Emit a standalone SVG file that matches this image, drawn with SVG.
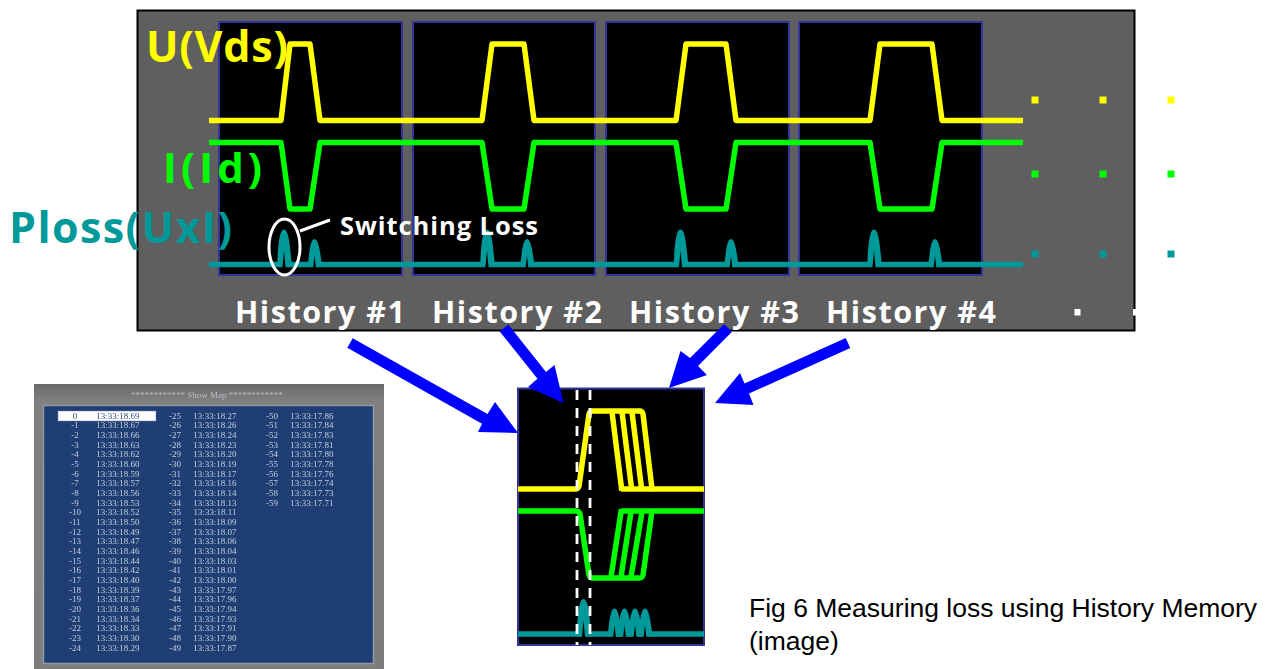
<svg xmlns="http://www.w3.org/2000/svg" width="1267" height="669" viewBox="0 0 1267 669">
<defs>
<filter id="soft" x="-5%" y="-5%" width="110%" height="110%"><feGaussianBlur stdDeviation="0.45"/></filter>
<linearGradient id="hdr" x1="0" y1="0" x2="0" y2="1"><stop offset="0" stop-color="#6a6a6a"/><stop offset="0.06" stop-color="#808080"/><stop offset="1" stop-color="#7c7c7c"/></linearGradient>
<g id="tall"><path fill="#009999" d="M-7 2.500C-6 -12 -5.500 -35 0 -35C5.500 -35 6.500 -12 8 2.500Z"/><path fill="#000" d="M-1.600 3.500L0 -14L1.600 3.500Z"/></g>
<g id="short"><path fill="#009999" d="M-7 2.500C-5.500 -6 -5 -25.500 0 -25.500C5 -25.500 6 -6 8 2.500Z"/><path fill="#000" d="M-1.400 3.500L0 -9L1.400 3.500Z"/></g>
</defs>
<style>
.screen{fill:#000;stroke:#333399;stroke-width:2}
.w{fill:none;stroke-width:5.500;stroke-linejoin:round}
.sq{stroke-linecap:square}
.y{stroke:#ffff00}.g{stroke:#00ff00}.t{stroke:#009999}
.lbl{font-family:"Open Sans","Noto Sans",sans-serif;font-weight:700}
.arrow{fill:#0000ff}
.fig{font-family:"Liberation Sans",Arial,sans-serif;font-size:26.500px;fill:#000}
.tbl text{font-family:"Liberation Serif","Times New Roman",serif;font-size:9px;fill:#c3ccdc;text-anchor:middle}
</style>
<rect width="1267" height="669" fill="#fff"/>
<g id="history-panel">
<rect x="137.500" y="10.500" width="997" height="320" fill="#5f5f5f" stroke="#000" stroke-width="2"/>
<rect class="screen" x="219" y="22" width="183" height="253"/>
<rect class="screen" x="413" y="22" width="182" height="253"/>
<rect class="screen" x="606" y="22" width="183" height="253"/>
<rect class="screen" x="799" y="22" width="183" height="253"/>
<text class="lbl" x="146" y="62" font-size="43" fill="#ffff00" textLength="142" lengthAdjust="spacing">U(Vds)</text>
<text class="lbl" x="163" y="183" font-size="42" fill="#00ff00" textLength="99" lengthAdjust="spacing">I(Id)</text>
<text class="lbl" x="9" y="243" font-size="43" fill="#009999" textLength="223" lengthAdjust="spacing">Ploss(UxI)</text>
</g>
<g id="waves">
<path class="w y" d="M209 120.500H281L290 44H310L320 120.500H482L492 44H524L534 120.500H676L686 44H726L736 120.500H870L880 44H932L942 120.500H1023"/>
<path class="w g" d="M209 142.500H281L290 209H310L320 142.500H482L492 209H524L534 142.500H676L686 209H726L736 142.500H870L880 209H932L942 142.500H1023"/>
<path class="w t" d="M209 264.500H1023"/>
<use href="#tall" x="284" y="264.500"/><use href="#short" x="314.500" y="264.500"/>
<use href="#tall" x="487" y="264.500"/><use href="#short" x="527" y="264.500"/>
<use href="#tall" x="680.500" y="264.500"/><use href="#short" x="731" y="264.500"/>
<use href="#tall" x="874" y="264.500"/><use href="#short" x="935" y="264.500"/>
</g>
<g id="switching-loss">
<ellipse cx="284.500" cy="247" rx="15.500" ry="28" fill="none" stroke="#fff" stroke-width="3"/>
<path d="M300 231L330 220" stroke="#fff" stroke-width="3" fill="none"/>
<text class="lbl" x="340" y="235" font-size="25.500" fill="#fff" textLength="198" lengthAdjust="spacing">Switching Loss</text>
</g>
<g id="history-labels" class="lbl" font-size="30.500" fill="#fff">
<text x="235" y="323" textLength="170" lengthAdjust="spacing">History #1</text>
<text x="432" y="323" textLength="170" lengthAdjust="spacing">History #2</text>
<text x="629" y="323" textLength="170" lengthAdjust="spacing">History #3</text>
<text x="826" y="323" textLength="170" lengthAdjust="spacing">History #4</text>
</g>
<g id="dots">
<g fill="#ffff00"><rect x="1031.500" y="96.500" width="7" height="7"/><rect x="1099.500" y="96.500" width="7" height="7"/><rect x="1167.500" y="96.500" width="7" height="7"/></g>
<g fill="#00ff00"><rect x="1031.500" y="170.500" width="7" height="7"/><rect x="1099.500" y="170.500" width="7" height="7"/><rect x="1167.500" y="170.500" width="7" height="7"/></g>
<g fill="#009999"><rect x="1031.500" y="250.500" width="7" height="7"/><rect x="1099.500" y="250.500" width="7" height="7"/><rect x="1167.500" y="250.500" width="7" height="7"/></g>
<rect x="1074.500" y="309" width="6" height="6.500" fill="#fff"/><rect x="1133" y="309" width="4" height="6.500" fill="#fff"/>
</g>
<g id="overlay-screen">
<rect class="screen" x="518" y="388.500" width="186" height="256.500"/>
<path class="w y" d="M518 489H576Q578 489 579 486L589 414Q590 411 592 411H640Q642 411 643 414L652 489H704"/>
<path class="w y sq" d="M612 412L621.500 488M622 412L631.500 488M632 412L641.500 488"/>
<path class="w y" d="M621 489H652"/>
<path class="w g" d="M518 511H576Q579 511 580 514L589 575Q590 578 592 578H640Q642 578 643 575L652 511H704"/>
<path class="w g sq" d="M611 577L621 512M621 577L631 512M631 577L642 512"/>
<path class="w g" d="M621 511H652"/>
<path class="w t" d="M518 634H704"/>
<use href="#tall" x="583.500" y="634"/>
<use href="#short" x="614.500" y="634"/><use href="#short" x="624.500" y="634"/><use href="#short" x="635" y="634"/><use href="#short" x="645" y="634"/>
<path d="M577 390V645M590 390V645" stroke="#fff" stroke-width="2.800" stroke-dasharray="10 8" fill="none"/>
</g>
<g id="connectors">
<path class="arrow" d="M352.700 338.200L347.300 347.800L482 423.700L478 432L518 433L495 402L487.500 413.900Z"/>
<path class="arrow" d="M499.700 331.400L508.300 324.600L546 371.900L554.500 365L563.500 403L528 387L537.500 378.700Z"/>
<path class="arrow" d="M724.200 324.100L731.800 331.900L698 366L707 375L669 388L680.500 351L690 358Z"/>
<path class="arrow" d="M845.700 338L850.300 348L749 393.500L753.500 405L715 403L740 373L744.500 383.500Z"/>
</g>
<g id="show-map">
<rect x="34" y="384" width="350" height="285" fill="url(#hdr)"/>
<rect x="43.500" y="405.500" width="330" height="258" fill="#1f3f74" stroke="#8f99a8" stroke-width="1.500"/>
<g filter="url(#soft)" class="tbl">
<text x="207" y="398" style="fill:#b5bac2">************ Show Map ************</text>
<rect x="58" y="411" width="98" height="10" fill="#fff" stroke="#6d7fa6" stroke-width="0.500"/>
<g>
<text x="75" y="418.500" style="fill:#2b4a86">0</text><text x="118" y="418.500" style="fill:#2b4a86">13:33:18.69</text>
<text x="75" y="428.200">-1</text><text x="118" y="428.200">13:33:18.67</text>
<text x="75" y="437.800">-2</text><text x="118" y="437.800">13:33:18.66</text>
<text x="75" y="447.500">-3</text><text x="118" y="447.500">13:33:18.63</text>
<text x="75" y="457.200">-4</text><text x="118" y="457.200">13:33:18.62</text>
<text x="75" y="466.900">-5</text><text x="118" y="466.900">13:33:18.60</text>
<text x="75" y="476.500">-6</text><text x="118" y="476.500">13:33:18.59</text>
<text x="75" y="486.200">-7</text><text x="118" y="486.200">13:33:18.57</text>
<text x="75" y="495.900">-8</text><text x="118" y="495.900">13:33:18.56</text>
<text x="75" y="505.500">-9</text><text x="118" y="505.500">13:33:18.53</text>
<text x="75" y="515.200">-10</text><text x="118" y="515.200">13:33:18.52</text>
<text x="75" y="524.900">-11</text><text x="118" y="524.900">13:33:18.50</text>
<text x="75" y="534.500">-12</text><text x="118" y="534.500">13:33:18.49</text>
<text x="75" y="544.200">-13</text><text x="118" y="544.200">13:33:18.47</text>
<text x="75" y="553.900">-14</text><text x="118" y="553.900">13:33:18.46</text>
<text x="75" y="563.600">-15</text><text x="118" y="563.600">13:33:18.44</text>
<text x="75" y="573.200">-16</text><text x="118" y="573.200">13:33:18.42</text>
<text x="75" y="582.900">-17</text><text x="118" y="582.900">13:33:18.40</text>
<text x="75" y="592.600">-18</text><text x="118" y="592.600">13:33:18.39</text>
<text x="75" y="602.200">-19</text><text x="118" y="602.200">13:33:18.37</text>
<text x="75" y="611.900">-20</text><text x="118" y="611.900">13:33:18.36</text>
<text x="75" y="621.600">-21</text><text x="118" y="621.600">13:33:18.34</text>
<text x="75" y="631.200">-22</text><text x="118" y="631.200">13:33:18.33</text>
<text x="75" y="640.900">-23</text><text x="118" y="640.900">13:33:18.30</text>
<text x="75" y="650.600">-24</text><text x="118" y="650.600">13:33:18.29</text>
<text x="175" y="418.500">-25</text><text x="215" y="418.500">13:33:18.27</text>
<text x="175" y="428.200">-26</text><text x="215" y="428.200">13:33:18.26</text>
<text x="175" y="437.800">-27</text><text x="215" y="437.800">13:33:18.24</text>
<text x="175" y="447.500">-28</text><text x="215" y="447.500">13:33:18.23</text>
<text x="175" y="457.200">-29</text><text x="215" y="457.200">13:33:18.20</text>
<text x="175" y="466.900">-30</text><text x="215" y="466.900">13:33:18.19</text>
<text x="175" y="476.500">-31</text><text x="215" y="476.500">13:33:18.17</text>
<text x="175" y="486.200">-32</text><text x="215" y="486.200">13:33:18.16</text>
<text x="175" y="495.900">-33</text><text x="215" y="495.900">13:33:18.14</text>
<text x="175" y="505.500">-34</text><text x="215" y="505.500">13:33:18.13</text>
<text x="175" y="515.200">-35</text><text x="215" y="515.200">13:33:18.11</text>
<text x="175" y="524.900">-36</text><text x="215" y="524.900">13:33:18.09</text>
<text x="175" y="534.500">-37</text><text x="215" y="534.500">13:33:18.07</text>
<text x="175" y="544.200">-38</text><text x="215" y="544.200">13:33:18.06</text>
<text x="175" y="553.900">-39</text><text x="215" y="553.900">13:33:18.04</text>
<text x="175" y="563.600">-40</text><text x="215" y="563.600">13:33:18.03</text>
<text x="175" y="573.200">-41</text><text x="215" y="573.200">13:33:18.01</text>
<text x="175" y="582.900">-42</text><text x="215" y="582.900">13:33:18.00</text>
<text x="175" y="592.600">-43</text><text x="215" y="592.600">13:33:17.97</text>
<text x="175" y="602.200">-44</text><text x="215" y="602.200">13:33:17.96</text>
<text x="175" y="611.900">-45</text><text x="215" y="611.900">13:33:17.94</text>
<text x="175" y="621.600">-46</text><text x="215" y="621.600">13:33:17.93</text>
<text x="175" y="631.200">-47</text><text x="215" y="631.200">13:33:17.91</text>
<text x="175" y="640.900">-48</text><text x="215" y="640.900">13:33:17.90</text>
<text x="175" y="650.600">-49</text><text x="215" y="650.600">13:33:17.87</text>
<text x="272" y="418.500">-50</text><text x="312" y="418.500">13:33:17.86</text>
<text x="272" y="428.200">-51</text><text x="312" y="428.200">13:33:17.84</text>
<text x="272" y="437.800">-52</text><text x="312" y="437.800">13:33:17.83</text>
<text x="272" y="447.500">-53</text><text x="312" y="447.500">13:33:17.81</text>
<text x="272" y="457.200">-54</text><text x="312" y="457.200">13:33:17.80</text>
<text x="272" y="466.900">-55</text><text x="312" y="466.900">13:33:17.78</text>
<text x="272" y="476.500">-56</text><text x="312" y="476.500">13:33:17.76</text>
<text x="272" y="486.200">-57</text><text x="312" y="486.200">13:33:17.74</text>
<text x="272" y="495.900">-58</text><text x="312" y="495.900">13:33:17.73</text>
<text x="272" y="505.500">-59</text><text x="312" y="505.500">13:33:17.71</text>
</g>
</g>
</g>
<g id="caption">
<text class="fig" x="749" y="617">Fig 6 Measuring loss using History Memory</text>
<text class="fig" x="749" y="650">(image)</text>
</g>
</svg>
